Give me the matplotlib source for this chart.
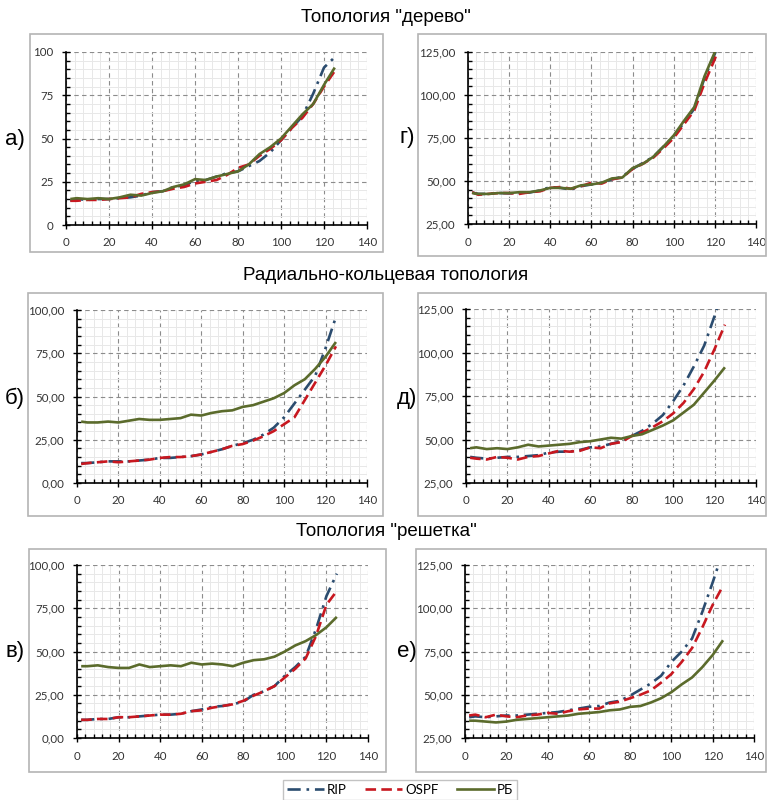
import matplotlib
matplotlib.use("Agg")
import matplotlib.pyplot as plt
from matplotlib.patches import Rectangle
from matplotlib.lines import Line2D
from matplotlib.ticker import MultipleLocator, FuncFormatter

# ---------------- data ----------------
x = [2, 5, 10, 15, 20, 25, 30, 35, 40, 45, 50, 55, 60, 65, 70, 75, 80, 85, 90, 95, 100, 105, 110, 115, 120, 125]

# а) tree, left
a_rip  = [14, 15, 14.5, 15, 15, 15.5, 16, 17, 19, 19.5, 22, 23, 25.5, 26, 28, 30, 31, 34, 37, 42, 49, 56, 63, 76, 91, 97]
a_ospf = [14, 14, 14.5, 14.5, 15, 15.5, 16, 18, 19, 19.5, 21, 22, 24, 25, 26, 29, 33, 35, 40, 44, 49, 56, 62, 70, 80, 89]
a_rb   = [15, 15.5, 15, 15.5, 15, 16, 17.5, 17, 18.5, 19.5, 22, 23.5, 26.5, 26, 28, 29.5, 31, 35, 41, 45, 50, 57, 64, 70, 81, 91]

# г) tree, right
g_rip  = [43.3, 42.5, 42.5, 43, 42.8, 43, 43.3, 44.5, 46.5, 46, 45, 47, 48, 49, 51, 52.5, 57, 60.5, 64, 70, 76, 84, 92, 110, 124, 142]
g_ospf = [43.5, 42, 42.5, 43, 43, 42.5, 43.5, 44, 46, 46.5, 45.5, 47, 49, 48.5, 51, 52, 57, 60, 63.5, 69, 75, 83, 91, 107, 121, 138]
g_rb   = [43, 42.5, 42.5, 43, 43, 43.5, 43.5, 44.5, 46, 46, 45.5, 47.5, 48, 49, 51.5, 52, 57.5, 60, 64, 70, 76.5, 85, 93, 111, 125, 143]

# б) radial-ring, left
b_rip  = [11.5, 11.5, 12, 12.5, 12.5, 12.5, 13, 13.5, 14.5, 14.5, 15, 15.5, 16.5, 18, 19.5, 21.5, 23, 25, 28, 32, 38, 46, 54, 62, 78, 96]
b_ospf = [11, 11.5, 12, 12.5, 12, 12.5, 13, 13.5, 14.5, 15, 15, 15.5, 16.5, 18, 19.5, 21.5, 22.5, 24.5, 27, 30, 34, 38, 48, 58, 68, 79]
b_rb   = [35.5, 35, 35, 35.5, 35, 36, 37, 36.5, 36.5, 37, 37.5, 39.5, 39, 40.5, 41.5, 42, 44, 45, 47, 49, 52, 56.5, 60, 66, 73, 81.5]

# д) radial-ring, right
d_rip  = [40, 39.5, 39, 39.5, 40, 40, 40.5, 41, 42.5, 43, 43, 44, 45.5, 46, 47.5, 49, 52, 55, 59, 64, 72, 81, 92, 104, 121, 140]
d_ospf = [39.5, 39, 38.5, 40, 39.5, 38.5, 40, 40.5, 42, 43.5, 43, 43.5, 45.5, 45, 47.5, 48.5, 52, 54, 57, 60.5, 65, 71, 79, 89, 102, 116]
d_rb   = [45, 45.5, 44.5, 45, 44.5, 45.5, 47, 46, 46.5, 47, 47.5, 48.5, 49, 50, 51, 50.5, 52, 53, 55.5, 58, 61, 65.5, 70, 77, 84, 91.5]

# в) lattice, left
v_rip  = [10.5, 10.5, 11, 11, 12, 12, 12.5, 13, 13.5, 13.5, 14, 15.5, 16.5, 18, 18.5, 19.5, 21, 25, 27, 30, 36, 41, 47, 63, 82, 95]
v_ospf = [10.5, 10.5, 11, 11, 12, 12, 12.5, 13, 13.5, 13.5, 14, 15.5, 16, 17.5, 18.5, 19.5, 21.5, 24.5, 27, 30, 35, 40, 46, 59, 77, 85]
v_rb   = [41.5, 41.5, 42, 41, 40.5, 40.5, 42.5, 41, 41.5, 42, 41.5, 43.5, 42.5, 43, 42.5, 41.5, 43.5, 45, 45.5, 47, 50, 53.5, 56, 59.5, 64, 70]

# е) lattice, right
e_rip  = [37, 37.5, 37, 37.5, 38, 38, 38.5, 39, 39.5, 40, 41, 42, 43, 43.5, 45.5, 46.5, 49.5, 53, 56.5, 61, 69, 75, 82.5, 98, 115, 133]
e_ospf = [38, 38.5, 37, 38.5, 37.5, 37, 38, 38.5, 39.5, 39, 40.5, 41.5, 42, 42, 45, 46, 48, 50, 52.5, 57, 62, 69, 77, 89, 102, 113]
e_rb   = [35, 35, 34.5, 34, 34.5, 35.5, 36, 36.5, 37, 37.5, 38, 39, 39.5, 40, 41, 41.5, 43, 43.5, 45.5, 48, 51.5, 56, 60, 66, 73, 81.5]

series_names = ["RIP", "OSPF", "РБ"]
titles = ['Топология "дерево"', 'Радиально-кольцевая топология', 'Топология "решетка"']
letters = ["а)", "г)", "б)", "д)", "в)", "е)"]

# ---------------- styling ----------------
W, H = 769, 800
fig = plt.figure(figsize=(W / 100, H / 100), dpi=100)
fig.patch.set_facecolor("white")

def fx(px):
    return px / W

def fy(py):
    return 1 - py / H

C_RIP = "#2B4C6F"
C_OSPF = "#C81820"
C_RB = "#5B6B2C"
styles = [
    dict(color=C_RIP, lw=1.9, linestyle=(0, (5, 2.2, 1, 2.2))),
    dict(color=C_OSPF, lw=1.9, linestyle=(0, (4, 2))),
    dict(color=C_RB, lw=1.9, linestyle="-"),
]

TICK_FONT = "Lato"
TITLE_FONT = "Liberation Sans"

# outer panel boxes (pixel coords: x0, y0, x1, y1)
boxes = [(30, 34, 383, 252), (418, 34, 766, 256),
         (28, 293, 383, 516), (418, 293, 766, 516),
         (29, 549, 386, 772), (416, 549, 766, 772)]
for (x0, y0, x1, y1) in boxes:
    fig.patches.append(Rectangle((fx(x0), fy(y1)), fx(x1) - fx(x0), fy(y0) - fy(y1),
                                 transform=fig.transFigure, fill=False,
                                 edgecolor="#b4b4b4", lw=1.2))

# axes rectangles in pixels: x0, y_top, x1, y_bottom
axrects = [(66, 52, 367, 225), (468, 52, 756, 224),
           (77, 310, 367, 483), (466, 309, 756, 483),
           (77, 565, 368, 738), (465, 565, 754, 738)]
ylims = [(0, 100), (25, 125), (0, 100), (25, 125), (0, 100), (25, 125)]
data = [(a_rip, a_ospf, a_rb), (g_rip, g_ospf, g_rb),
        (b_rip, b_ospf, b_rb), (d_rip, d_ospf, d_rb),
        (v_rip, v_ospf, v_rb), (e_rip, e_ospf, e_rb)]
letter_pos = [(15, 140), (407, 138), (15, 398), (407, 398), (15, 652), (407, 651)]

fmt_int = FuncFormatter(lambda v, p: f"{v:.0f}")
fmt_dec = FuncFormatter(lambda v, p: f"{v:.2f}".replace(".", ","))

for i, ((x0, yt, x1, yb), ylim, ser) in enumerate(zip(axrects, ylims, data)):
    ax = fig.add_axes([fx(x0), fy(yb), fx(x1) - fx(x0), fy(yt) - fy(yb)])
    ax.set_xlim(0, 140)
    ax.set_ylim(*ylim)
    ax.xaxis.set_major_locator(MultipleLocator(20))
    ax.xaxis.set_minor_locator(MultipleLocator(4))
    ax.yaxis.set_major_locator(MultipleLocator(25))
    ax.yaxis.set_minor_locator(MultipleLocator(5))
    ax.yaxis.set_major_formatter(fmt_int if i == 0 else fmt_dec)
    ax.grid(which="minor", color="#e8e8e8", lw=0.7, linestyle="-")
    ax.grid(which="major", color="#8c8c8c", lw=0.8, linestyle=(0, (4, 3)))
    ax.set_axisbelow(True)
    for s in ("top", "right"):
        ax.spines[s].set_visible(False)
    for s in ("left", "bottom"):
        ax.spines[s].set_color("black")
        ax.spines[s].set_linewidth(1.2)
    ax.tick_params(which="major", direction="inout", length=6, width=1, color="black",
                   labelsize=8.3, labelcolor="#333333", pad=6)
    ax.tick_params(which="minor", direction="in", length=3, width=1, color="black")
    for lab in ax.get_xticklabels() + ax.get_yticklabels():
        lab.set_fontfamily(TICK_FONT)
    for vals, st in zip(ser, styles):
        ax.plot(x, vals, solid_capstyle="butt", dash_capstyle="butt", **st)
    lx, ly = letter_pos[i]
    fig.text(fx(lx), fy(ly), letters[i], fontsize=16, family=TITLE_FONT,
             ha="center", va="center", color="black")

title_y = [18, 275, 531]
for t, ty in zip(titles, title_y):
    fig.text(fx(386), fy(ty), t, fontsize=13.5, family=TITLE_FONT, ha="center", va="center")

handles = [Line2D([], [], **st) for st in styles]
leg = fig.legend(handles, series_names, loc="center", ncol=3,
                 bbox_to_anchor=(fx(400), fy(790)), frameon=True, fancybox=False,
                 edgecolor="#b4b4b4", prop={"family": TICK_FONT, "size": 9.5},
                 handlelength=2.8, handletextpad=0.2, columnspacing=1.4,
                 borderpad=0.3)
leg.get_frame().set_linewidth(1.0)

fig.savefig("out.png", dpi=100, facecolor="white")
